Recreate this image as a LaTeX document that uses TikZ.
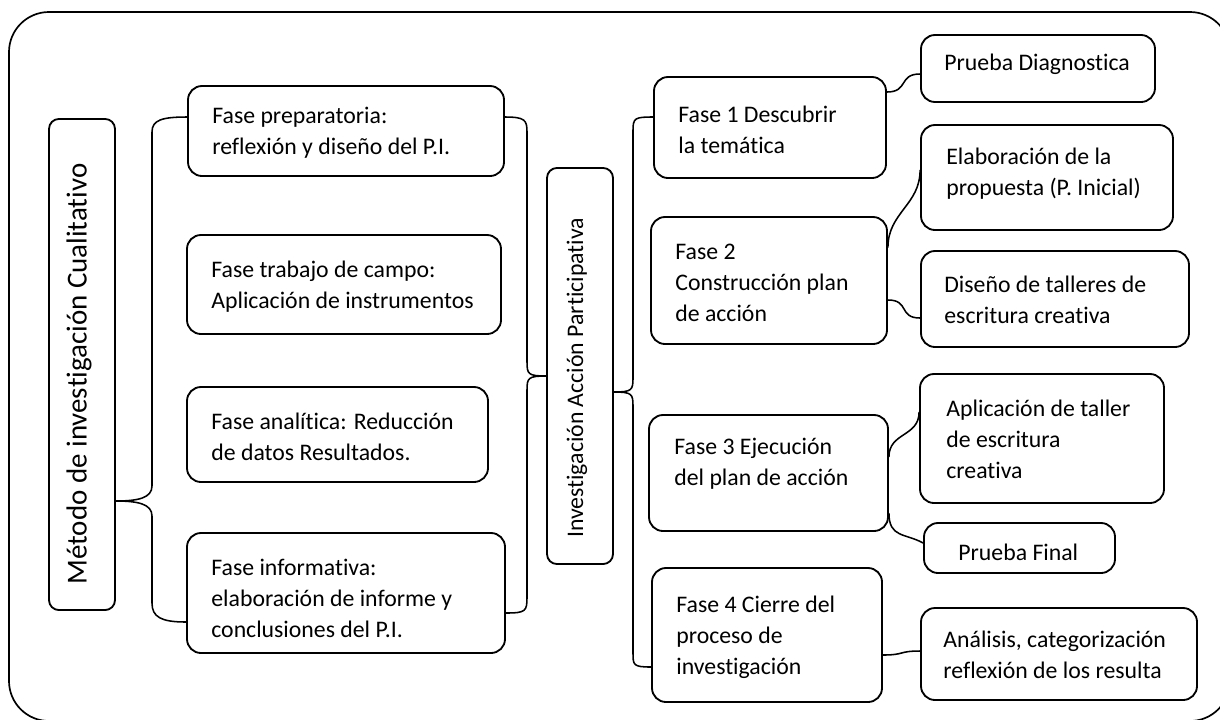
\documentclass[tikz,border=0pt]{standalone}
\usepackage{fontspec}
\setmainfont{Carlito}[Ligatures=NoCommon]

\tikzset{
    caja/.style={draw, line width=1.3pt, rounded corners=0.35cm, inner sep=0pt},
    texto/.style={align=left, inner sep=0pt, font=\fontsize{16.9}{22}\selectfont},
    llave/.style={line width=1.1pt},
}

\newcommand{\Fase}[7][25,2]{%
    \pgfmathsetmacro{\anchoF}{(#5-#3)*0.025}
    \pgfmathsetmacro{\altoF}{(#6-#4)*0.025}
    \node[caja, minimum width=\anchoF cm, minimum height=\altoF cm] (#2) at ({(#3+#5)/2},{(#4+#6)/2}) {};
    \node[texto, anchor=west] (#2-txt) at ([shift={(#1)}]#2.west) {#7};
}

\begin{document}
\begin{tikzpicture}[x=0.025cm, y=-0.025cm]
        \useasboundingbox (0,0) rectangle (1220,719);
        \clip (0,0) rectangle (1220,719);
        \draw[line width=1.2pt, rounded corners=1cm] (9,12) rectangle (1230,721);

        \node[caja, rounded corners=0.25cm, minimum width=1.65cm, minimum height=12.275cm] (metodo) at (82,364.5) {};
        \node[rotate=90, inner sep=0pt, font=\fontsize{20.6}{24}\selectfont] (metodo-txt) at (79,374) {Método de investigación Cualitativo};
        \node[caja, rounded corners=0.25cm, minimum width=1.65cm, minimum height=9.9cm] (iap) at (580,366) {};
        \node[texto, rotate=90] (iap-txt) at (577,378) {Investigación Acción Participativa};

        \Fase{fprep}{188}{86}{504}{176}{Fase preparatoria:\\reflexión y diseño del P.I.}
        \Fase{fcampo}{187}{235}{501}{334}{Fase trabajo de campo:\\Aplicación de instrumentos}
        \Fase{fanal}{187}{387}{488}{482}{Fase analítica: Reducción\\de datos Resultados.}
        \Fase[25,5]{finfo}{187}{533}{505}{653}{Fase informativa:\\elaboración de informe y\\conclusiones del P.I.}
        \Fase{f1}{654}{77}{886}{178}{Fase 1 Descubrir\\la temática}
        \Fase{f2}{651}{217}{887}{344}{Fase 2\\Construcción plan\\de acción}
        \Fase[26,-9]{f3}{649}{415}{888}{531}{Fase 3 Ejecución\\del plan de acción}
        \Fase{f4}{652}{568}{882}{702}{Fase 4 Cierre del\\proceso de\\investigación}
        \Fase[24,-4]{pdiag}{921}{35}{1155}{102}{Prueba Diagnostica}
        \Fase[26,-4]{elab}{921}{125}{1173}{230}{Elaboración de la\\propuesta (P. Inicial)}
        \Fase[24,1]{disen}{921}{251}{1189}{347}{Diseño de talleres de\\escritura creativa}
        \Fase[27,1]{aplic}{920}{374}{1164}{503}{Aplicación de taller\\de escritura\\creativa}
        \Fase[35,4]{pfinal}{924}{523}{1115}{573}{Prueba Final}
        \Fase[23,1]{analis}{921}{608}{1197}{700}{Análisis, categorización\\reflexión de los resulta}

        % llaves
        \draw[llave] ([shift={(0,-14)}]fprep.west) .. controls +(-25,0) and +(0,-12) .. (152,132) -- (152,486) .. controls +(0,12) and +(22,0) .. ([shift={(0,136.5)}]metodo.east) .. controls +(22,0) and +(0,-12) .. (152,516) -- (152,603) .. controls +(0,14) and +(-25,0) .. ([shift={(0,29)}]finfo.west);
        \draw[llave] ([shift={(0,-14)}]fprep.east) .. controls +(20,0) and +(0,-12) .. (527,132) -- (527,362) .. controls +(0,12) and +(-18,0) .. ([shift={(0,10)}]iap.west) .. controls +(-18,0) and +(0,-12) .. (527,390) -- (527,597) .. controls +(0,14) and +(20,0) .. ([shift={(0,20)}]finfo.east);
        \draw[llave] ([shift={(0,-10.5)}]f1.west) .. controls +(-18,0) and +(0,-12) .. (633,130) -- (633,378) .. controls +(0,12) and +(18,0) .. ([shift={(0,26)}]iap.east) .. controls +(18,0) and +(0,-12) .. (633,406) -- (633,653) .. controls +(0,12) and +(-18,0) .. ([shift={(0,32)}]f4.west);

        \draw[llave] ([shift={(0,-35.5)}]f1.east) .. controls +(22,0) and +(-22,0) .. ([shift={(0,5.5)}]pdiag.west);
        \draw[llave] ([shift={(0,-33)}]f2.east) .. controls +(0,-35) and +(0,35) .. ([shift={(0,-7.5)}]elab.west);
        \draw[llave] ([shift={(0,19.5)}]f2.east) .. controls +(22,0) and +(-22,0) .. ([shift={(0,19)}]disen.west);
        \draw[llave] ([shift={(0,-16)}]f3.east) .. controls +(0,-25) and +(0,25) .. ([shift={(0,-26.5)}]aplic.west);
        \draw[llave] ([shift={(0,40)}]f3.east) .. controls +(0,25) and +(-18,-10) .. ([shift={(0,-5)}]pfinal.west);
        \draw[llave] ([shift={(0,20)}]f4.east) .. controls +(22,0) and +(-22,0) .. ([shift={(0,-3)}]analis.west);
\end{tikzpicture}
\end{document}
